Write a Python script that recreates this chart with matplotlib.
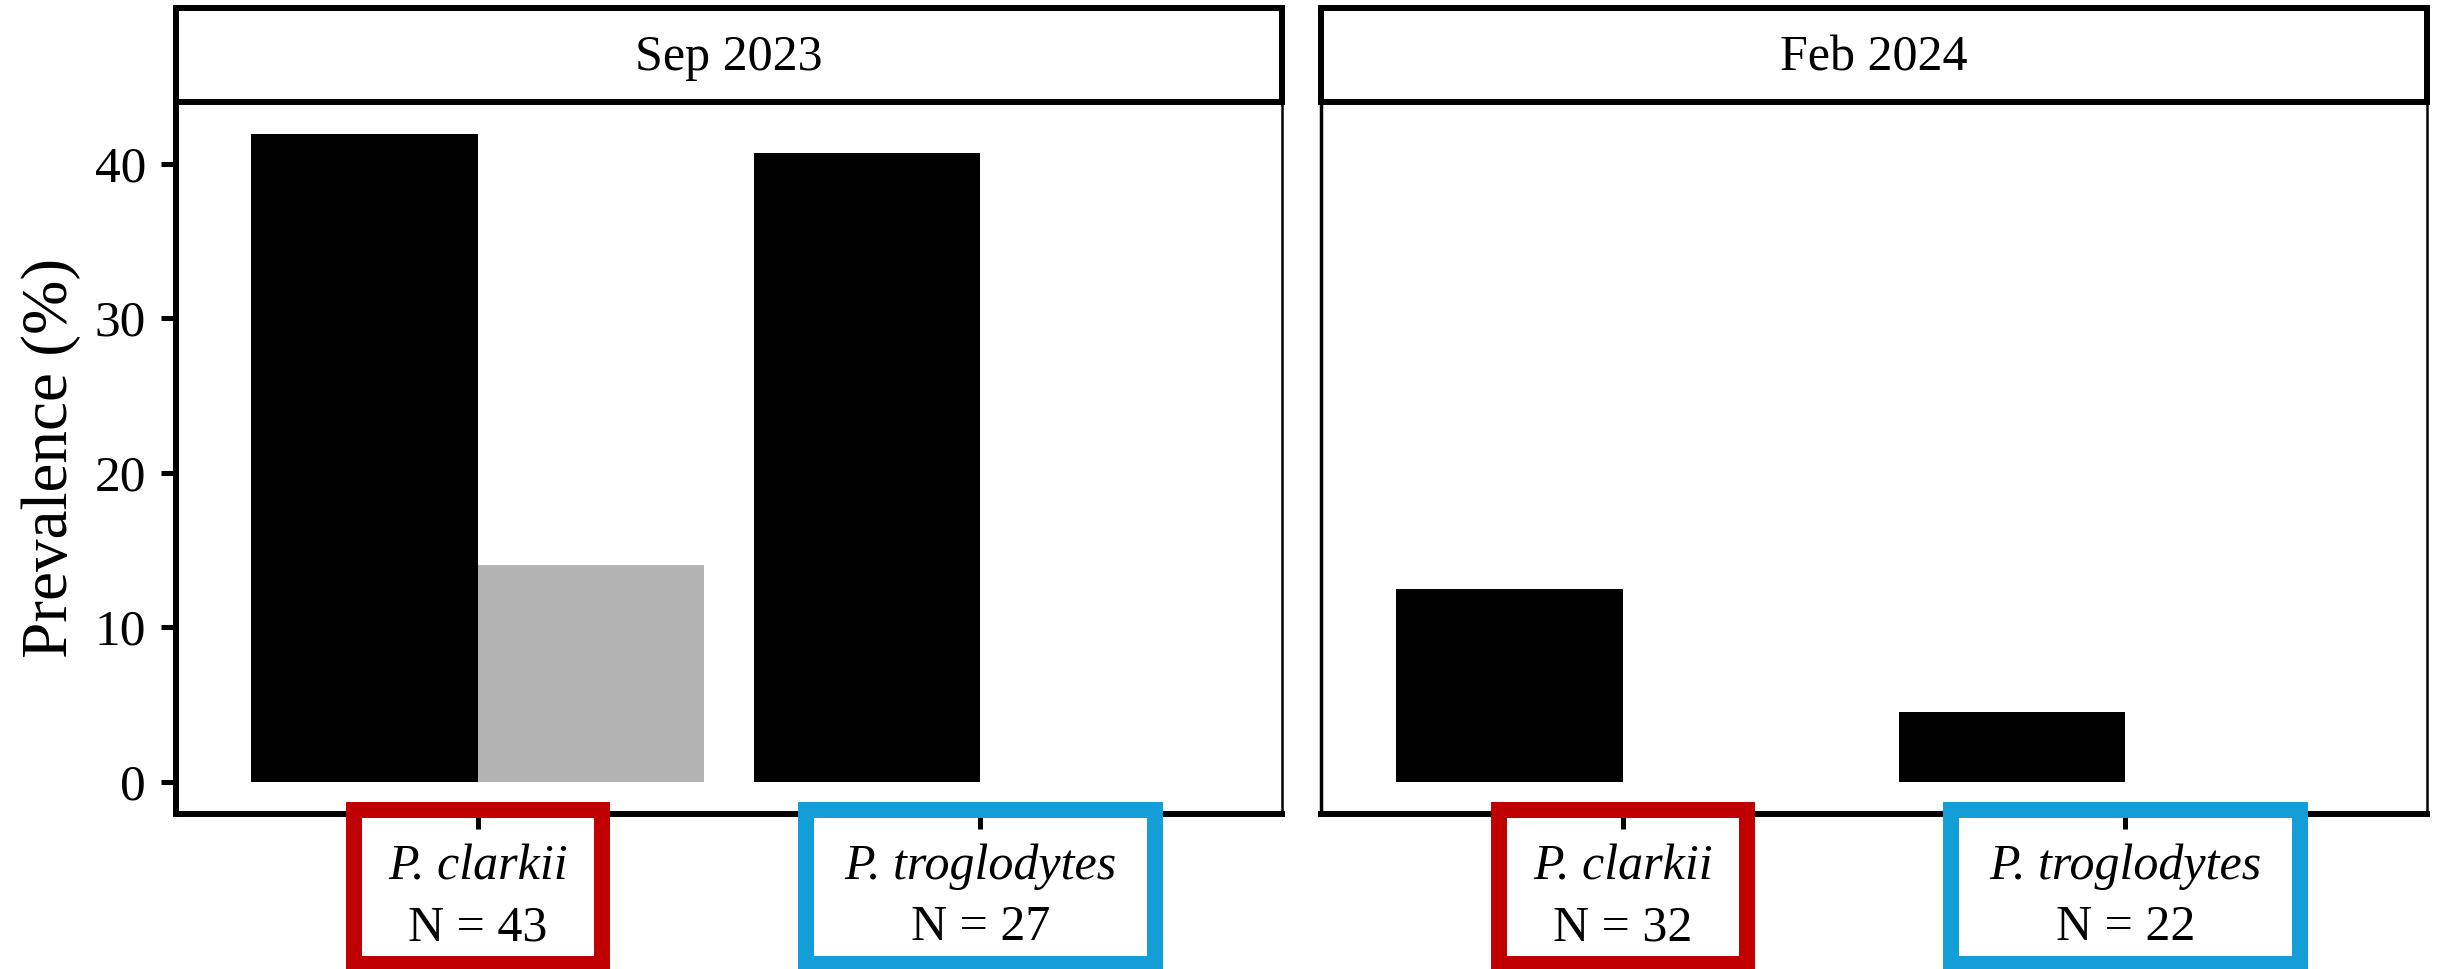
import matplotlib
matplotlib.use('Agg')
import numpy as np
import matplotlib.pyplot as plt
from matplotlib.patches import Rectangle
from matplotlib.transforms import blended_transform_factory

plt.rcParams['font.family'] = ['Liberation Serif', 'DejaVu Serif']

# data
periods = ['Sep 2023', 'Feb 2024']
species = ['P. clarkii', 'P. troglodytes']
sample_n = [[43, 27], [32, 22]]
prev_black = [[41.9, 40.7], [12.5, 4.5]]
prev_grey = [[14.0, 0.0], [0.0, 0.0]]
y_ticks = [0, 10, 20, 30, 40]

box_colors = ['#C00000', '#139ED7']
box_widths = [0.493, 0.695]

W, H = 2440, 969
fig = plt.figure(figsize=(W / 100, H / 100), dpi=100)

x = np.arange(1, len(species) + 1)
bar_w = 0.45
ymax = max(max(max(r) for r in prev_black), max(max(r) for r in prev_grey))
ylim = (-0.05 * ymax, ymax * 1.05)

panel_left = [176, 1321]
panel_w = 1106
panel_top, panel_bot = 102, 814
strip_top = 8

for i, period in enumerate(periods):
    ax = fig.add_axes([panel_left[i] / W, (H - panel_bot) / H,
                       panel_w / W, (panel_bot - panel_top) / H])
    ax.bar(x - bar_w / 2, prev_black[i], width=bar_w, color='black', linewidth=0)
    ax.bar(x + bar_w / 2, prev_grey[i], width=bar_w, color='#B3B3B3', linewidth=0)
    ax.set_xlim(0.4, len(species) + 0.6)
    ax.set_ylim(*ylim)
    ax.set_xticks(x)
    ax.set_xticklabels(['' for _ in species])
    ax.tick_params(axis='x', length=10.8, width=3.6, direction='out')
    ax.set_yticks(y_ticks)
    ax.tick_params(axis='y', length=10.8, width=3.6, pad=10.8, labelsize=37)

    ax.spines['bottom'].set_linewidth(4.3)
    ax.spines['top'].set_linewidth(1.8)
    ax.spines['right'].set_linewidth(1.8)
    if i == 0:
        ax.spines['left'].set_linewidth(4.3)
        ax.set_ylabel('Prevalence (%)', fontsize=47)
        ax.yaxis.set_label_coords(-0.086, 0.5)
    else:
        ax.spines['left'].set_linewidth(2.5)
        ax.tick_params(axis='y', left=False, labelleft=False)

    # species / N labels framed by coloured boxes
    trans = blended_transform_factory(ax.transData, ax.transAxes)
    for j, sp in enumerate(species):
        ax.text(x[j], -0.0913, sp, transform=trans, ha='center', va='baseline',
                fontsize=36, fontstyle='italic')
        ax.text(x[j], -0.177, f'N = {sample_n[i][j]}', transform=trans,
                ha='center', va='baseline', fontsize=36)
        bw = box_widths[j]
        ax.add_patch(Rectangle((x[j] - bw / 2, -0.2107), bw, 0.2163,
                               transform=trans, fill=False,
                               edgecolor=box_colors[j], linewidth=11.5,
                               clip_on=False, zorder=10))

    # facet strip
    sax = fig.add_axes([panel_left[i] / W, (H - panel_top) / H,
                        panel_w / W, (panel_top - strip_top) / H])
    sax.set_xticks([])
    sax.set_yticks([])
    for s in sax.spines.values():
        s.set_linewidth(4.3)
    sax.text(0.5, 0.34, period, transform=sax.transAxes, ha='center',
             va='baseline', fontsize=36)

fig.savefig('out.png', dpi=100)
